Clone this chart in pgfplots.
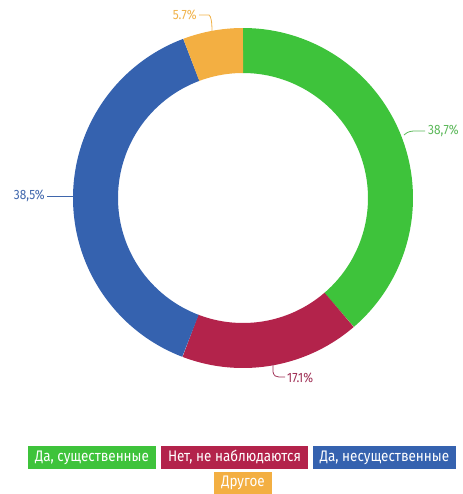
\documentclass[border=0pt]{standalone}
\usepackage{pgfplots}
\pgfplotsset{compat=1.18}
\usepackage{fontspec}
\setmainfont[FakeStretch=0.88]{Fira Sans}
\definecolor{cgreen}{HTML}{3EC33B}
\definecolor{cred}{HTML}{B3234B}
\definecolor{cblue}{HTML}{3562AF}
\definecolor{corange}{HTML}{F3AF42}
\definecolor{tgreen}{HTML}{5CB85A}
\definecolor{tred}{HTML}{9F2F55}
\definecolor{tblue}{HTML}{3F66AC}
\definecolor{torange}{HTML}{F0B24A}
% slice values (percent), clockwise from top
\def\va{38.7}
\def\vb{17.1}
\def\vc{38.5}
\def\vd{5.7}
\begin{document}
\begin{tikzpicture}
\pgfmathsetmacro\aa{90}
\pgfmathsetmacro\ab{\aa-3.6*\va}
\pgfmathsetmacro\ac{\ab-3.6*\vb}
\pgfmathsetmacro\ad{\ac-3.6*\vc}
\pgfmathsetmacro\ae{\ad-3.6*\vd}
\path[use as bounding box] (0,0) rectangle (463bp,494bp);
\begin{axis}[at={(0,0)}, anchor=south west, x=1bp, y=1bp,
  xmin=0, xmax=463, ymin=0, ymax=494, hide axis, clip=false,
  every axis plot/.append style={line cap=butt, no marks, samples=120, line width=45bp}]
\addplot[draw=cgreen, domain=\ab:\aa] ({243+147.5*cos(x)},{296+147.5*sin(x)});
\addplot[draw=cred, domain=\ac:\ab] ({243+147.5*cos(x)},{296+147.5*sin(x)});
\addplot[draw=cblue, domain=\ad:\ac] ({243+147.5*cos(x)},{296+147.5*sin(x)});
\addplot[draw=corange, domain=\ae:\ad] ({243+147.5*cos(x)},{296+147.5*sin(x)});
% leader lines and labels
\tikzset{lab/.style={inner sep=0pt, font=\fontsize{13.5bp}{15bp}\selectfont}}
\draw[tgreen, line width=0.8bp] (axis cs:404,359) .. controls (axis cs:408,363) and (axis cs:412,363) .. (axis cs:416,363) -- (axis cs:425,363);
\node[tgreen, lab, anchor=west] at (axis cs:428,363) {38,7\%};
\draw[tblue, line width=0.8bp] (axis cs:47,298) -- (axis cs:73,298);
\node[tblue, lab, anchor=east] at (axis cs:45,298) {38,5\%};
\draw[torange, line width=0.8bp] (axis cs:199,479) -- (axis cs:209,479) .. controls (axis cs:211,478) and (axis cs:212,472) .. (axis cs:212,463);
\node[torange, lab, anchor=east] at (axis cs:197,479) {5.7\%};
\draw[tred, line width=0.8bp] (axis cs:273,131) -- (axis cs:273,122) .. controls (axis cs:274,118) and (axis cs:276,117) .. (axis cs:279,117) -- (axis cs:285,117);
\node[tred, lab, anchor=west] at (axis cs:287,116) {17.1\%};
% legend
\tikzset{leg/.style={text=white, inner sep=0pt, minimum height=22bp, font=\fontsize{15.3bp}{17bp}\selectfont}}
\node[leg, fill=cgreen, minimum width=128bp] at (axis cs:92,36.5) {Да, существенные};
\node[leg, fill=cred, minimum width=147bp] at (axis cs:234.5,36.5) {Нет, не наблюдаются};
\node[leg, fill=cblue, minimum width=143bp] at (axis cs:384.5,36.5) {Да, несущественные};
\node[leg, fill=corange, minimum width=58bp] at (axis cs:243,11) {Другое};
\end{axis}
\end{tikzpicture}
\end{document}
